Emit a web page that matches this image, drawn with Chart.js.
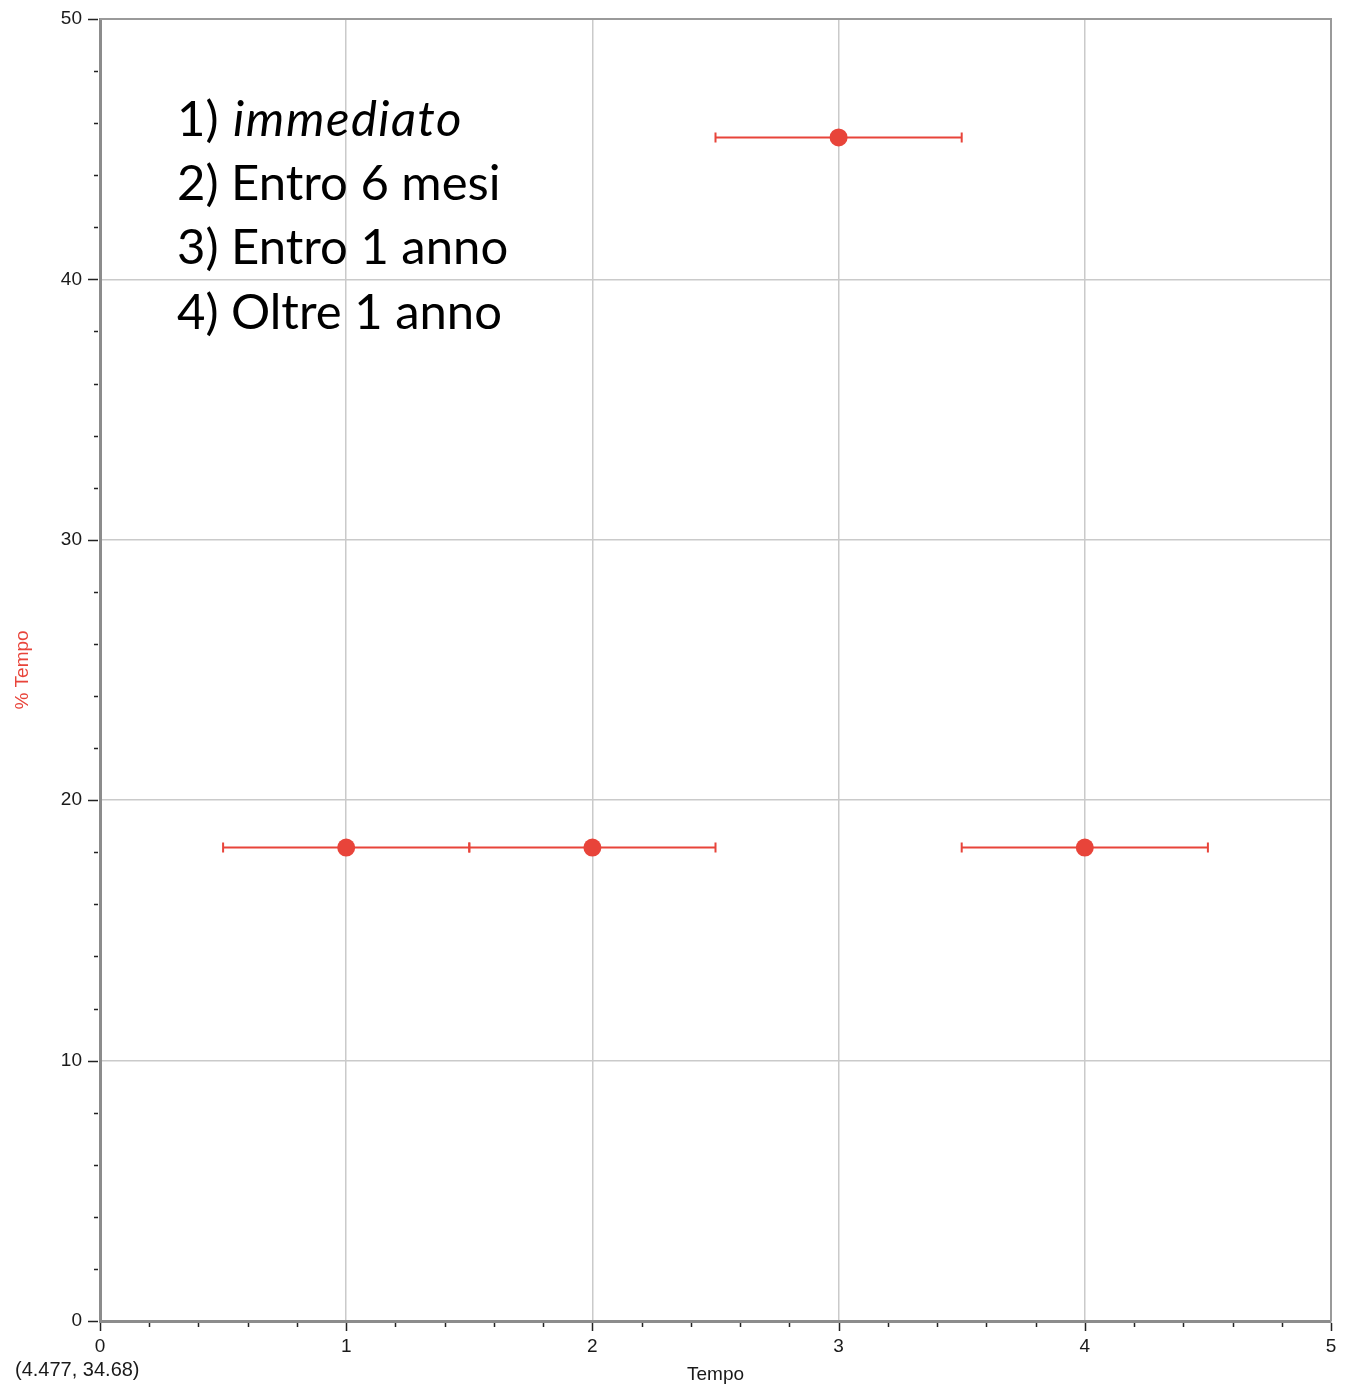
<!DOCTYPE html>
<html>
<head>
<meta charset="utf-8">
<script src="https://cdn.jsdelivr.net/npm/chart.js@4/dist/chart.umd.min.js"></script>
<style>
  html, body { margin: 0; padding: 0; background: #fff; }
  #wrap { width: 1348px; height: 1386px; }
</style>
</head>
<body>
<div id="wrap"><canvas id="chart" width="1348" height="1386"></canvas></div>
<script>
// ── Data ─────────────────────────────────────────────────────────────────────
const tempoX      = [1, 2, 3, 4];
const percentY    = [18.18, 18.18, 45.45, 18.18];
const xError      = [0.5, 0.5, 0.5, 0.5];
const legendItems = ['1) immediato', '2) Entro 6 mesi', '3) Entro 1 anno', '4) Oltre 1 anno'];
const cursorText  = '(4.477, 34.68)';

const RED  = '#e8443a';
const AXIS = '#8c8c8c';
const GRID = '#cacaca';
const TXT  = '#1a1a1a';
const FONT = '"Liberation Sans", Arial, sans-serif';

// ── Plugins ──────────────────────────────────────────────────────────────────
const errorBars = {
  id: 'errorBars',
  beforeDatasetsDraw(chart) {
    const { ctx, scales: { x, y } } = chart;
    ctx.save();
    ctx.strokeStyle = RED;
    ctx.lineWidth = 2;
    tempoX.forEach((v, i) => {
      const x0 = x.getPixelForValue(v - xError[i]);
      const x1 = x.getPixelForValue(v + xError[i]);
      const py = y.getPixelForValue(percentY[i]);
      ctx.beginPath();
      ctx.moveTo(x0, py); ctx.lineTo(x1, py);
      ctx.moveTo(x0, py - 5); ctx.lineTo(x0, py + 5);
      ctx.moveTo(x1, py - 5); ctx.lineTo(x1, py + 5);
      ctx.stroke();
    });
    ctx.restore();
  },
};

const frameAndTicks = {
  id: 'frameAndTicks',
  afterDraw(chart) {
    const { ctx, chartArea: a, scales: { x, y } } = chart;
    ctx.save();
    // top / right frame
    ctx.strokeStyle = '#9a9a9a';
    ctx.lineWidth = 2;
    ctx.beginPath();
    ctx.moveTo(a.left, a.top); ctx.lineTo(a.right, a.top); ctx.lineTo(a.right, a.bottom);
    ctx.stroke();

    // tick marks (major + minor)
    ctx.strokeStyle = '#222';
    ctx.lineWidth = 1.5;
    ctx.beginPath();
    for (let v = 0; v <= 50.001; v += 2) {
      const py = Math.round(y.getPixelForValue(v)) + 0.5;
      const major = Math.abs(v % 10) < 1e-6;
      ctx.moveTo(a.left - 2, py); ctx.lineTo(a.left - (major ? 12 : 6), py);
    }
    for (let k = 0; k <= 25; k++) {
      const v = k * 0.2;
      const px = Math.round(x.getPixelForValue(v)) + 0.5;
      const major = k % 5 === 0;
      ctx.moveTo(px, a.bottom + 2); ctx.lineTo(px, a.bottom + (major ? 10 : 6));
    }
    ctx.stroke();

    // legend text block
    ctx.fillStyle = '#000';
    ctx.textBaseline = 'middle';
    const lx = 177;
    const size = 49;
    legendItems.forEach((t, i) => {
      const ly = 120 + i * 64.3;
      if (i === 0) {
        const num = t.slice(0, 3);
        ctx.font = size + 'px Lato, "Open Sans", sans-serif';
        ctx.fillText(num, lx, ly);
        const w = ctx.measureText(num).width;
        ctx.font = 'italic ' + size + 'px Lato, "Open Sans", sans-serif';
        ctx.letterSpacing = '1.5px';
        ctx.fillText(t.slice(3), lx + w + 2, ly);
        ctx.letterSpacing = '0px';
      } else {
        ctx.font = size + 'px Lato, "Open Sans", sans-serif';
        ctx.fillText(t, lx, ly);
      }
    });

    // cursor readout
    ctx.font = '20px ' + FONT;
    ctx.fillStyle = TXT;
    ctx.fillText(cursorText, 15, 1370);
    ctx.restore();
  },
};

// ── Chart ────────────────────────────────────────────────────────────────────
new Chart(document.getElementById('chart'), {
  type: 'scatter',
  data: {
    datasets: [{
      label: '% Tempo',
      data: tempoX.map((v, i) => ({ x: v, y: percentY[i] })),
      backgroundColor: RED,
      borderColor: RED,
      pointRadius: 9,
      pointHoverRadius: 9,
      borderWidth: 0,
    }],
  },
  options: {
    responsive: false,
    animation: false,
    layout: { padding: { top: 19, right: 17, bottom: 0, left: 0 } },
    plugins: { legend: { display: false }, tooltip: { enabled: false } },
    scales: {
      x: {
        type: 'linear', min: 0, max: 5,
        ticks: { stepSize: 1, color: TXT, padding: 14, maxRotation: 0,
                 font: { family: FONT, size: 19 } },
        grid: { color: GRID, lineWidth: 1.5, drawTicks: false },
        border: { color: AXIS, width: 3 },
        title: { display: true, text: 'Tempo', color: TXT, padding: { top: 0, bottom: 0 },
                 font: { family: FONT, size: 19 } },
        afterFit(s) { s.height = 65; s.paddingLeft = 0; s.paddingRight = 0; },
      },
      y: {
        type: 'linear', min: 0, max: 50,
        ticks: { stepSize: 10, color: TXT, padding: 18,
                 font: { family: FONT, size: 19 } },
        grid: { color: GRID, lineWidth: 1.5, drawTicks: false },
        border: { color: AXIS, width: 3 },
        title: { display: true, text: '% Tempo', color: RED, padding: { top: 11, bottom: 0 },
                 font: { family: FONT, size: 19 } },
        afterFit(s) { s.width = 100; s.paddingTop = 0; s.paddingBottom = 0; },
      },
    },
  },
  plugins: [errorBars, frameAndTicks],
});
</script>
</body>
</html>
